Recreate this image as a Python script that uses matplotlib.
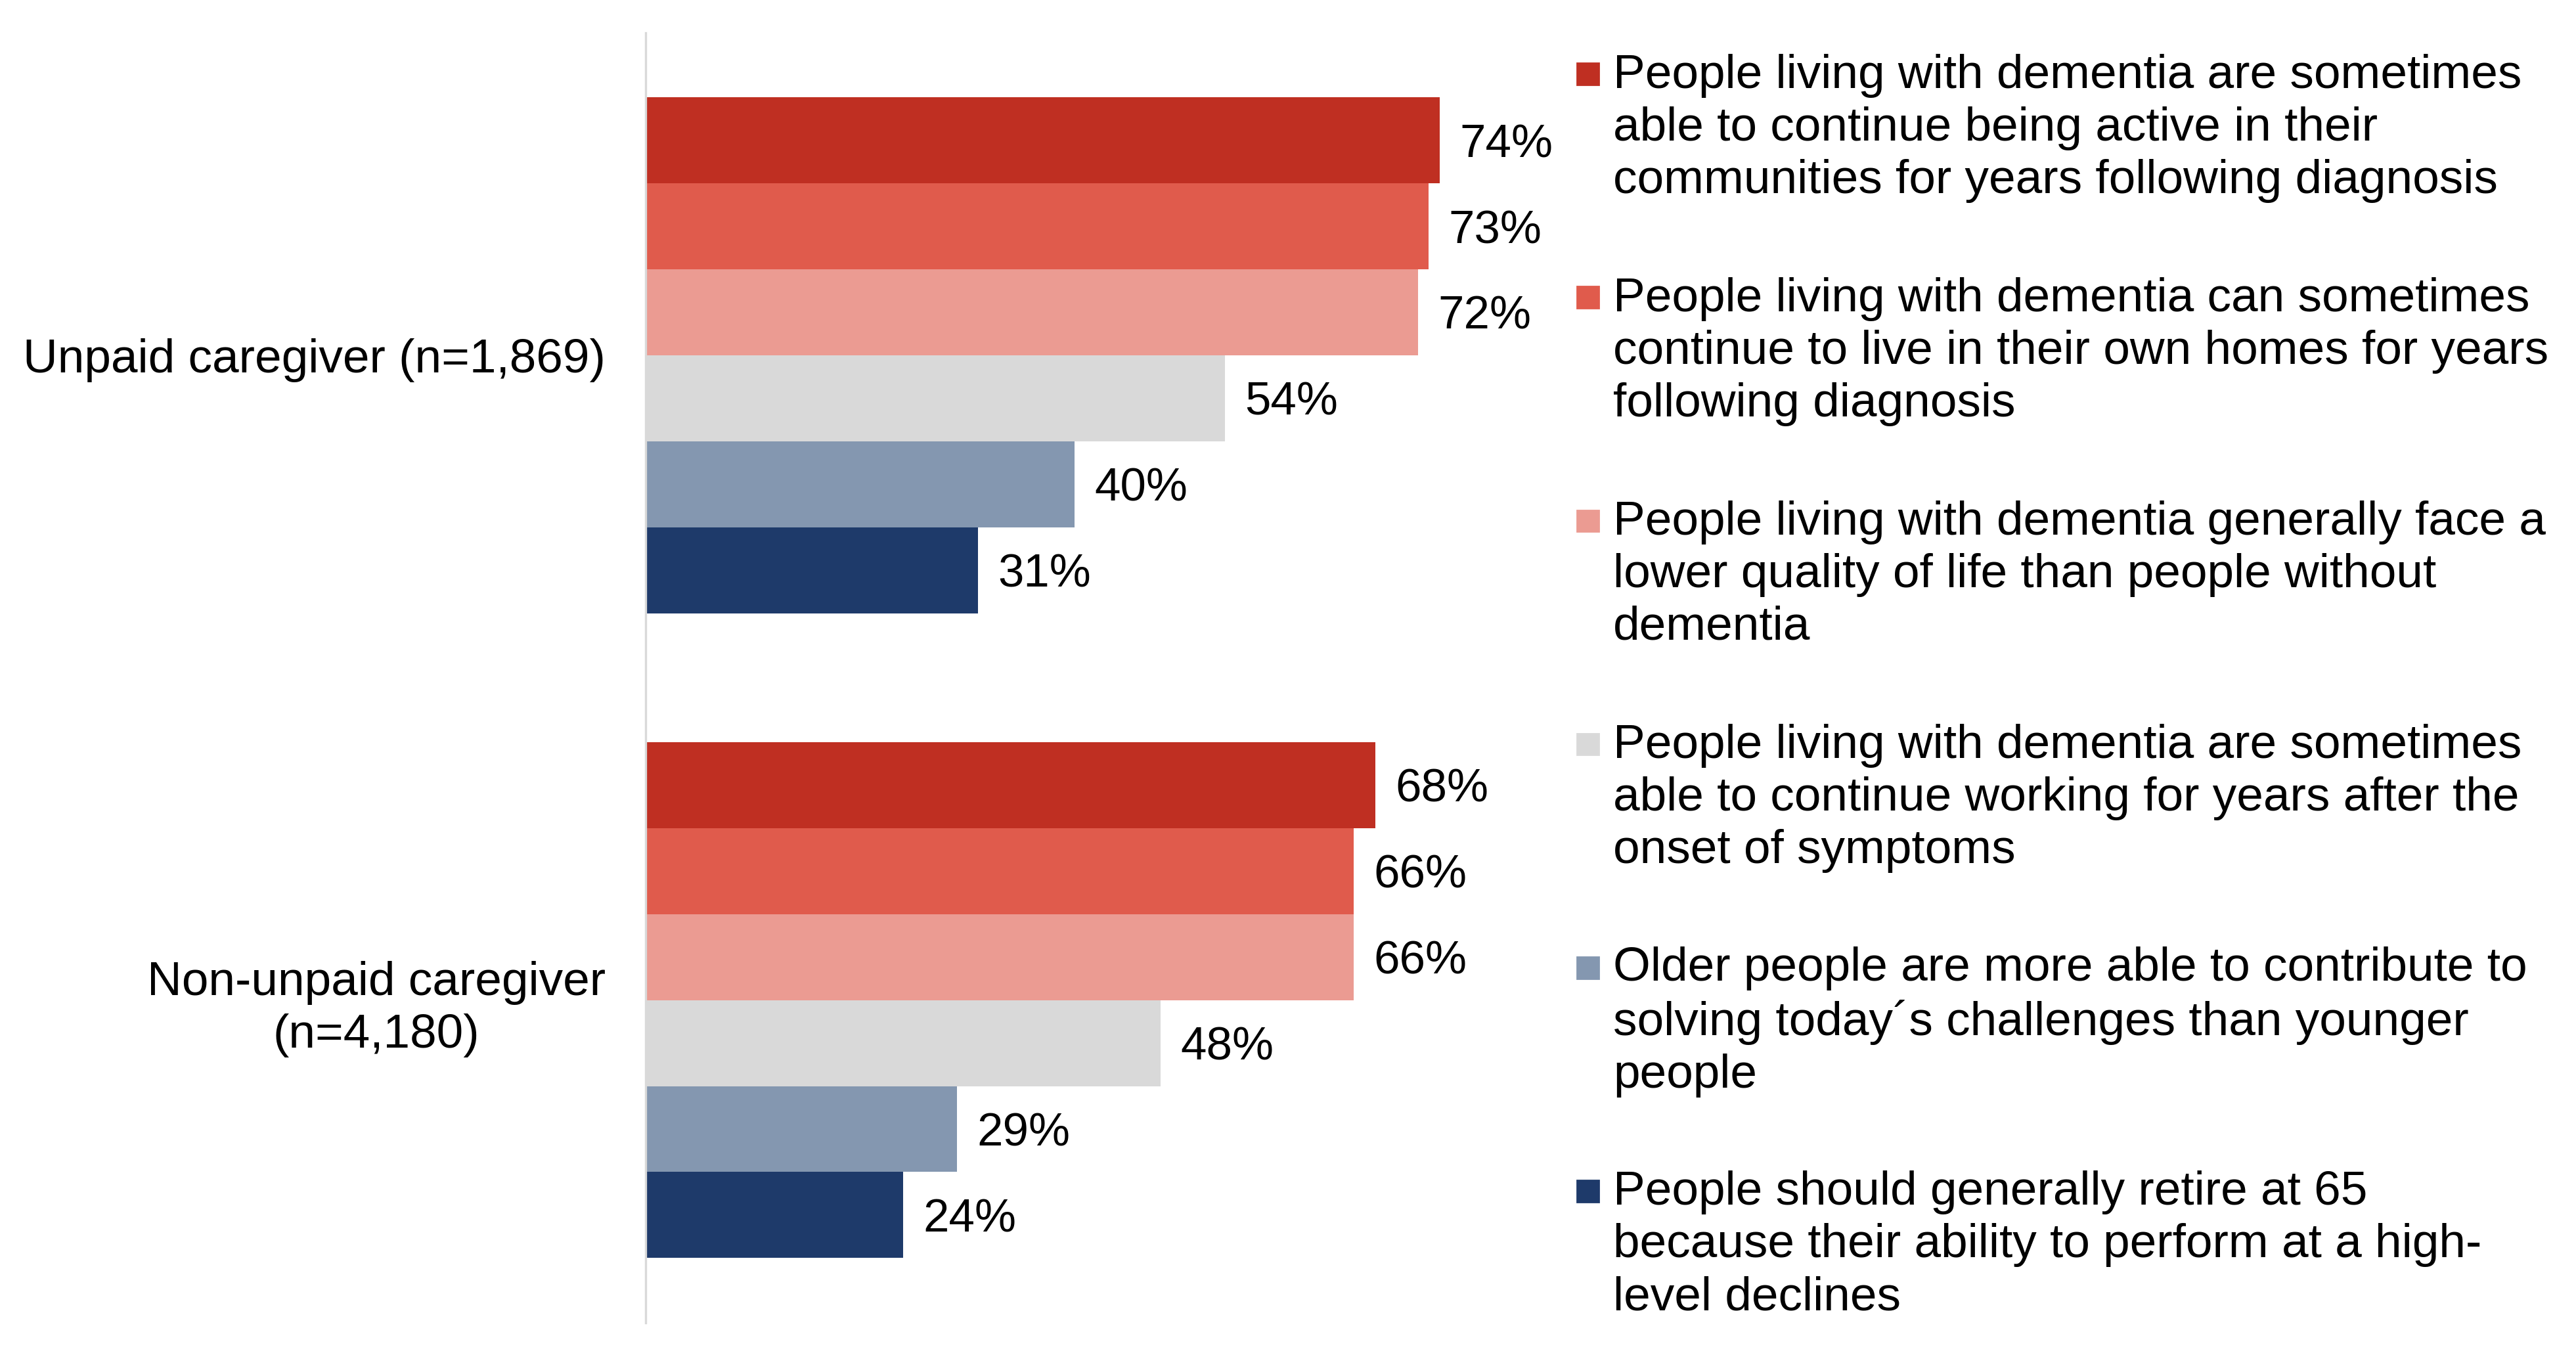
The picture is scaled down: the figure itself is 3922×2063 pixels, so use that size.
import numpy as np
import matplotlib
matplotlib.use("Agg")
import matplotlib.pyplot as plt
from matplotlib.patches import Rectangle

plt.rcParams['font.family'] = ['Liberation Sans', 'DejaVu Sans']

groups = ["Unpaid caregiver (n=1,869)", "Non-unpaid caregiver\n(n=4,180)"]
statements = [
    "People living with dementia are sometimes\nable to continue being active in their\ncommunities for years following diagnosis",
    "People living with dementia can sometimes\ncontinue to live in their own homes for years\nfollowing diagnosis",
    "People living with dementia generally face a\nlower quality of life than people without\ndementia",
    "People living with dementia are sometimes\nable to continue working for years after the\nonset of symptoms",
    "Older people are more able to contribute to\nsolving today\u00b4s challenges than younger\npeople",
    "People should generally retire at 65\nbecause their ability to perform at a high-\nlevel declines",
]
unpaid = [74, 73, 72, 54, 40, 31]
non_unpaid = [68, 66, 66, 48, 29, 24]
colors = ["#BF2F22", "#E05B4C", "#EB9B92", "#D9D9D9", "#8497B0", "#1E3A6A"]

W, H = 3922, 2063
dpi = 200
fig = plt.figure(figsize=(W / dpi, H / dpi), dpi=dpi)

s = W / 1568.0  # reference display scale
def fx(x):
    return x * s / W
def fy(y):
    return 1 - y * s / H

ax = fig.add_axes([fx(393), fy(805), fx(393 + 80 * 6.53) - fx(393), fy(20) - fy(805)])

values = np.array([unpaid, non_unpaid])
n = len(statements)
bh = 0.8 / n
for i in range(n):
    y = np.arange(len(groups)) - 0.4 + bh * (i + 0.5)
    bars = ax.barh(y, values[:, i], height=bh, color=colors[i], linewidth=0)
    for b, v in zip(bars, values[:, i]):
        ax.text(b.get_width() + 1.85, b.get_y() + bh / 2, f"{v}%",
                va='center_baseline', ha='left', fontsize=25.5)

ax.set_xlim(0, 80)
ax.set_ylim(1.5, -0.5)
ax.set_yticks(range(len(groups)))
ax.set_yticklabels(groups, fontsize=26.3, linespacing=1.25)
for lab in ax.get_yticklabels():
    lab.set_multialignment('center')
ax.tick_params(axis='y', length=0, pad=22)
ax.set_xticks([])
for sp in ['top', 'right', 'bottom']:
    ax.spines[sp].set_visible(False)
ax.spines['left'].set_color('#D9D9D9')
ax.spines['left'].set_linewidth(1.2)

# legend
for i, (txt, c) in enumerate(zip(statements, colors)):
    yc = 78 + 136 * i
    fig.text(fx(982), fy(yc), txt, ha='left', va='center', fontsize=26.3,
             linespacing=1.25)
    sq = 13
    fig.patches.append(Rectangle((fx(960), fy(yc - 33 + sq / 2)), fx(sq), fy(0) - fy(sq),
                                 transform=fig.transFigure, color=c, figure=fig))

fig.savefig("out.png", dpi=dpi)
